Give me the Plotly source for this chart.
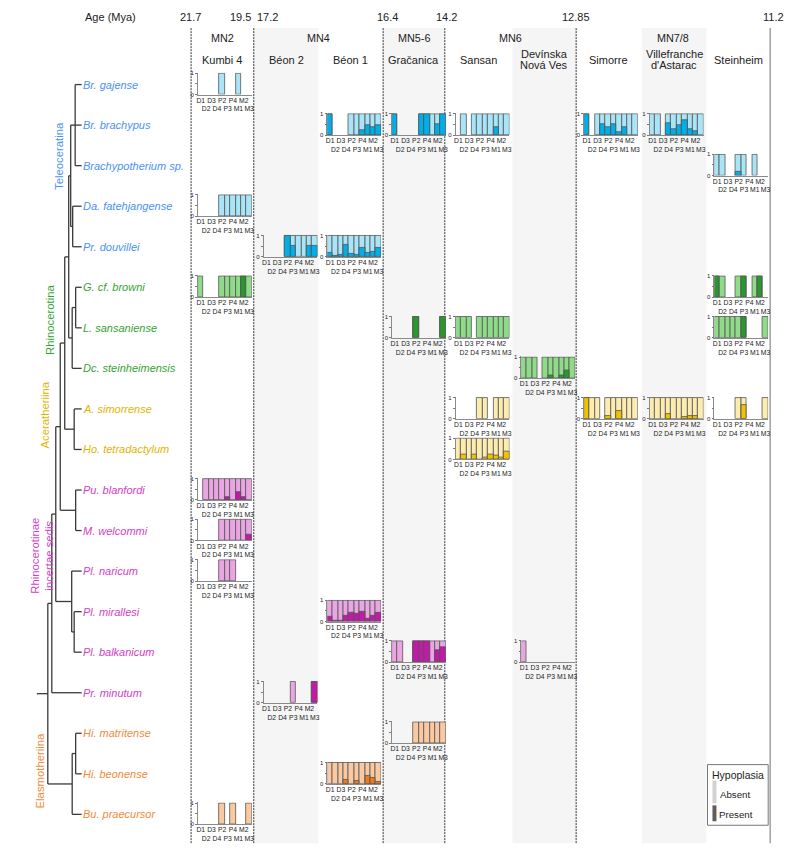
import plotly.graph_objects as go

W, H = 800, 864
OFF = 8  # browser default body margin; coordinates below are page pixels
FONT = "Liberation Sans, Arial, sans-serif"

# ---------------- data ----------------
TEETH = ["D1", "D2", "D3", "D4", "P2", "P3", "P4", "M1", "M2", "M3"]

SPECIES = ["Br. gajense", "Br. brachypus", "Brachypotherium sp.", "Da. fatehjangense",
           "Pr. douvillei", "G. cf. browni", "L. sansaniense", "Dc. steinheimensis",
           "A. simorrense", "Ho. tetradactylum", "Pu. blanfordi", "M. welcommi",
           "Pl. naricum", "Pl. mirallesi", "Pl. balkanicum", "Pr. minutum",
           "Hi. matritense", "Hi. beonense", "Bu. praecursor"]
SPECIES_CLADE = [0, 0, 0, 0, 0, 1, 1, 1, 2, 2, 3, 3, 3, 3, 3, 3, 4, 4, 4]
CLADES = [["Teleoceratina"], ["Rhinocerotina"], ["Aceratheriina"],
          ["Rhinocerotinae", "incertae sedis"], ["Elasmotheriina"]]

LOCALITIES = [["Kumbi 4"], ["Béon 2"], ["Béon 1"], ["Gračanica"], ["Sansan"],
              ["Devínska", "Nová Ves"], ["Simorre"], ["Villefranche", "d'Astarac"], ["Steinheim"]]
MN_ZONES = ["MN2", "MN4", "MN5-6", "MN6", "MN7/8"]
MN_SPAN = [(0, 0), (1, 2), (3, 3), (4, 5), (6, 8)]
AGE_LABELS = ["21.7", "19.5", "17.2", "16.4", "14.2", "12.85", "11.2"]

# fraction of teeth with hypoplasia per tooth locus (None = locus not sampled)
br_gajense_kumbi4 = [None, None, None, None, 0, None, None, 0, None, None]
br_brachypus_beon1 = [1, None, None, None, 0, 0, 0.25, 0.45, 0.35, 0.45]
br_brachypus_gracanica = [1, None, None, None, None, 1, 1, 0, 0.5, 1]
br_brachypus_sansan = [None, 0, None, 0, 0, 0, 0, 0.35, 0, 0]
br_brachypus_simorre = [1, None, 0, 0.5, 0.35, 0.5, 0.15, 0.35, 0, 0]
br_brachypus_villefranche = [0, 0, None, 0.55, 0.3, 0.45, 0.7, 0.3, 0.2, 0]
brachypotherium_sp_steinheim = [0, 0, None, None, 0.18, 0, None, 0, None, None]
da_fatehjangense_kumbi4 = [None, None, None, None, 0, 0, 0, 0, 0, 0]
pr_douvillei_beon2 = [None, None, None, None, 1, 0.5, 0, 0, 0.5, 0.5]
pr_douvillei_beon1 = [0.18, 0.05, 0.1, 0.55, 0.12, 0.1, 0.4, 0.2, 0.25, 0.4]
g_browni_kumbi4 = [0, None, None, None, 0, 0, 0, 0, 1, 0]
g_browni_steinheim = [1, 0, None, None, 0, 1, None, 0, 1, None]
l_sansaniense_gracanica = [None, None, None, None, 1, None, None, None, None, 1]
l_sansaniense_sansan = [0, 0, 0, None, 0, 0, 0, 0, 0, 0]
l_sansaniense_steinheim = [0, 0, 0, 0, 0, 1, None, None, None, 0]
dc_steinheimensis_dnv = [0, 0, 0, None, 0, 0.15, 0, 0.15, 0.35, 0]
a_simorrense_sansan = [None, None, None, None, 0, 0, None, 0, 0, 0]
a_simorrense_simorre = [1, 0, 0, None, 0.15, 0, 0.35, 0, 0, 0]
a_simorrense_villefranche = [0, 0, 0, 0.25, 0, 0, 0.08, 0.15, 0.15, 0]
a_simorrense_steinheim = [None, None, None, None, 0, 0.65, None, None, None, 0]
ho_tetradactylum_sansan = [0, 0.25, 0, 0.25, 0, 0.1, 0.25, 0.2, 0.1, 0.35]
pu_blanfordi_kumbi4 = [None, 0, 0, 0, 0, 0.15, 0, 0.35, 0.15, 0]
m_welcommi_kumbi4 = [None, None, None, None, 0, 0, 0, 0, 0, 0.3]
pl_naricum_kumbi4 = [None, None, None, None, 0, 0, 0, None, None, None]
pl_mirallesi_beon1 = [0.25, 0.05, 0.05, 0.3, 0.4, 0.35, 0.45, 0.15, 0.3, 0.4]
pl_balkanicum_gracanica = [0, 0, None, None, 1, 1, 1, 0, 0.55, 0.7]
pl_balkanicum_dnv = [0, None, None, None, None, None, None, None, None, None]
pr_minutum_beon2 = [None, None, None, None, None, 0, None, None, None, 1]
hi_matritense_gracanica = [None, None, None, None, 0, 0, 0, 0, 0, 0]
hi_beonense_beon1 = [0, 0, 0, 0.18, 0, 0.15, 0, 0.38, 0.3, 0.08]
bu_praecursor_kumbi4 = [None, None, None, None, 0, None, 0, None, None, 0]

# (species index, locality index, values)
CHARTS = [
    (0, 0, br_gajense_kumbi4),
    (1, 2, br_brachypus_beon1), (1, 3, br_brachypus_gracanica), (1, 4, br_brachypus_sansan),
    (1, 6, br_brachypus_simorre), (1, 7, br_brachypus_villefranche),
    (2, 8, brachypotherium_sp_steinheim),
    (3, 0, da_fatehjangense_kumbi4),
    (4, 1, pr_douvillei_beon2), (4, 2, pr_douvillei_beon1),
    (5, 0, g_browni_kumbi4), (5, 8, g_browni_steinheim),
    (6, 3, l_sansaniense_gracanica), (6, 4, l_sansaniense_sansan), (6, 8, l_sansaniense_steinheim),
    (7, 5, dc_steinheimensis_dnv),
    (8, 4, a_simorrense_sansan), (8, 6, a_simorrense_simorre),
    (8, 7, a_simorrense_villefranche), (8, 8, a_simorrense_steinheim),
    (9, 4, ho_tetradactylum_sansan),
    (10, 0, pu_blanfordi_kumbi4), (11, 0, m_welcommi_kumbi4), (12, 0, pl_naricum_kumbi4),
    (13, 2, pl_mirallesi_beon1),
    (14, 3, pl_balkanicum_gracanica), (14, 5, pl_balkanicum_dnv),
    (15, 1, pr_minutum_beon2),
    (16, 3, hi_matritense_gracanica), (17, 2, hi_beonense_beon1), (18, 0, bu_praecursor_kumbi4),
]

# phylogeny: (node depth position, children); ints are species indices
TREE = (46, [
    (50, [
        (54, [
            (58.5, [
                (63, [
                    (67, [
                        (69, [(73.5, [0, 1, 2]), (71, [3, 4])]),
                        (70.5, [(74, [5, 6]), 7]),
                    ]),
                    (72.5, [8, 9]),
                ]),
                (74, [10, 11]),
            ]),
            (70, [12, (72.5, [13, 14])]),
        ]),
        15,
    ]),
    (70.5, [(74, [16, 17]), 18]),
])

# ---------------- styling / layout constants ----------------
NAME_COL = ["#4a92f2", "#35a335", "#e2b400", "#d23ec6", "#f28a38"]
BAR_LIGHT = ["#a9e5f7", "#8fdb8a", "#fcecb0", "#eaa6e2", "#f9c9a1"]
BAR_DARK = ["#00aee8", "#2a962f", "#f2c100", "#c21aa8", "#ef7a1c"]
OUTLINE = "#555555"

COL_EDGES = [190, 253, 318, 383, 445, 513, 577, 643, 708, 772]
CHART_X0 = [197, 263, 327, 392, 456, 522, 585, 651, 716]
CHART_W = 54
ROW_Y0, ROW_DY = 83, 40.78
ROW_Y = [ROW_Y0 + i * ROW_DY for i in range(len(SPECIES))]
TIP_X, LABEL_X, ROOT_STUB_X = 80, 80, 35
TOP_Y, BOT_Y = 26, 846


def px(x):
    return (x - OFF) / W


def py(y):
    return 1 - (y - OFF) / H


fig = go.Figure()

# ---------------- tree ----------------
tx, ty = [], []


def walk(node):
    if isinstance(node, int):
        return ROW_Y[node], TIP_X
    nx, kids = node
    child = [walk(k) for k in kids]
    cys = [c[0] for c in child]
    top, bot = min(cys), max(cys)
    tx.extend([nx, nx, None]); ty.extend([top, bot, None])
    for cy, cx in child:
        tx.extend([nx, cx, None]); ty.extend([cy, cy, None])
    return (top + bot) / 2, nx


root_y, root_x = walk(TREE)
tx.extend([ROOT_STUB_X, root_x, None]); ty.extend([root_y, root_y, None])
fig.add_trace(go.Scatter(x=tx, y=ty, mode="lines", line=dict(color="#3a3a3a", width=1.3),
                         xaxis="x", yaxis="y", hoverinfo="skip", showlegend=False))

layout = dict(
    width=W, height=H, autosize=False,
    margin=dict(l=0, r=0, t=0, b=0),
    paper_bgcolor="white", plot_bgcolor="rgba(0,0,0,0)",
    font=dict(family=FONT, color="#222"),
    barmode="overlay", bargap=0, showlegend=False, hovermode=False,
    xaxis=dict(range=[OFF, W + OFF], domain=[0, 1], visible=False, fixedrange=True),
    yaxis=dict(range=[H + OFF, OFF], domain=[0, 1], visible=False, fixedrange=True),
)

TICK_TEXT = [t if i % 2 == 0 else "\u00a0<br>" + t for i, t in enumerate(TEETH)]

# ---------------- mini bar charts ----------------
for n, (si, li, vals) in enumerate(CHARTS):
    k = n + 2
    clade = SPECIES_CLADE[si]
    x0 = CHART_X0[li]
    yc = ROW_Y[si]
    ytop, ybot = yc - 12, yc + 10
    full = [1 if v is not None else None for v in vals]
    pres = [v if (v is not None and v > 0) else None for v in vals]
    fig.add_trace(go.Bar(x=TEETH, y=full, marker=dict(color=BAR_LIGHT[clade], line=dict(color=OUTLINE, width=0.8)),
                         xaxis=f"x{k}", yaxis=f"y{k}", opacity=1, hoverinfo="skip"))
    fig.add_trace(go.Bar(x=TEETH, y=pres, marker=dict(color=BAR_DARK[clade], line=dict(color=OUTLINE, width=0.8)),
                         xaxis=f"x{k}", yaxis=f"y{k}", opacity=1, hoverinfo="skip"))
    layout[f"xaxis{k}"] = dict(
        domain=[px(x0), px(x0 + CHART_W)], anchor=f"y{k}", type="category",
        categoryorder="array", categoryarray=TEETH, range=[-0.5, 9.5],
        tickmode="array", tickvals=TEETH, ticktext=TICK_TEXT, tickangle=0,
        tickfont=dict(size=6.8, family=FONT, color="#222"), ticks="", ticklen=0,
        ticklabelstandoff=-1,
        showline=True, linecolor="#8a8a8a", linewidth=0.8,
        showgrid=False, zeroline=False, fixedrange=True)
    layout[f"yaxis{k}"] = dict(
        domain=[py(ybot), py(ytop)], anchor=f"x{k}", range=[0, 1.03],
        tickmode="array", tickvals=[0, 0.5, 1], ticktext=["0", "", "1"],
        ticks="outside", ticklen=2, tickwidth=0.6, tickcolor="#777",
        tickfont=dict(size=6, family=FONT, color="#222"),
        showline=True, linecolor="#8a8a8a", linewidth=0.8,
        showgrid=False, zeroline=False, fixedrange=True)

# ---------------- shapes ----------------
shapes = []
for ci in range(1, 9, 2):
    shapes.append(dict(type="rect", xref="paper", yref="paper", layer="below",
                       x0=px(COL_EDGES[ci]), x1=px(COL_EDGES[ci + 1]), y0=py(BOT_Y), y1=py(TOP_Y),
                       fillcolor="#f5f5f5", line=dict(width=0)))
for ci in [0, 1, 3, 4, 6]:
    shapes.append(dict(type="line", xref="paper", yref="paper", layer="below",
                       x0=px(COL_EDGES[ci]), x1=px(COL_EDGES[ci]), y0=py(BOT_Y), y1=py(TOP_Y),
                       line=dict(color="#333", width=1, dash="2px,1px")))
shapes.append(dict(type="line", xref="paper", yref="paper", layer="below",
                   x0=px(COL_EDGES[9]), x1=px(COL_EDGES[9]), y0=py(BOT_Y), y1=py(TOP_Y),
                   line=dict(color="#a0a0a0", width=1.5)))
# legend box
shapes.append(dict(type="rect", xref="x", yref="y", x0=709, x1=770, y0=767, y1=828,
                   fillcolor="white", line=dict(color="#777", width=1), layer="above"))
shapes.append(dict(type="rect", xref="x", yref="y", x0=714, x1=718, y0=783, y1=806,
                   fillcolor="#d2d2d2", line=dict(width=0), layer="above"))
shapes.append(dict(type="rect", xref="x", yref="y", x0=714, x1=718, y0=808, y1=824,
                   fillcolor="#5e5e5e", line=dict(width=0), layer="above"))

# ---------------- annotations ----------------
ann = []


def text(x, y, s, size=12, color="#222", xanchor="center", angle=0):
    ann.append(dict(x=x, y=y, xref="x", yref="y", text=s, showarrow=False,
                    xanchor=xanchor, yanchor="middle", textangle=angle, borderpad=0,
                    font=dict(size=size, color=color, family=FONT)))


text(109, 15, "Age (Mya)", 11)
AGE_POS = [(189, "center"), (251, "right"), (255, "left"), (387, "center"),
           (447, "center"), (577, "center"), (775, "center")]
for s, (x, anc) in zip(AGE_LABELS, AGE_POS):
    text(x, 15, s, 11, xanchor=anc)
for z, (a, b) in zip(MN_ZONES, MN_SPAN):
    text((COL_EDGES[a] + COL_EDGES[b + 1]) / 2, 36, z, 10.8)
for i, lines in enumerate(LOCALITIES):
    cx = (COL_EDGES[i] + COL_EDGES[i + 1]) / 2
    if len(lines) == 1:
        text(cx, 58, lines[0], 11)
    else:
        text(cx, 52, lines[0], 11)
        text(cx, 63, lines[1], 11)

for i, name in enumerate(SPECIES):
    text(LABEL_X, ROW_Y[i], f"<i>{name}</i>", 11, NAME_COL[SPECIES_CLADE[i]], xanchor="left")

CLADE_POS = [[(57, 155)], [(48, 320)], [(43, 415)], [(33, 557), (47, 557)], [(38, 773)]]
for c, (lines, pos) in enumerate(zip(CLADES, CLADE_POS)):
    for s, (x, y) in zip(lines, pos):
        text(x, y, s, 11.3, NAME_COL[c], angle=-90)

text(740, 777, "Hypoplasia", 10.5)
text(737, 797, "Absent", 9.7)
text(738, 817, "Present", 9.7)

layout["shapes"] = shapes
layout["annotations"] = ann
fig.update_layout(**layout)
fig.write_html("out.html")
